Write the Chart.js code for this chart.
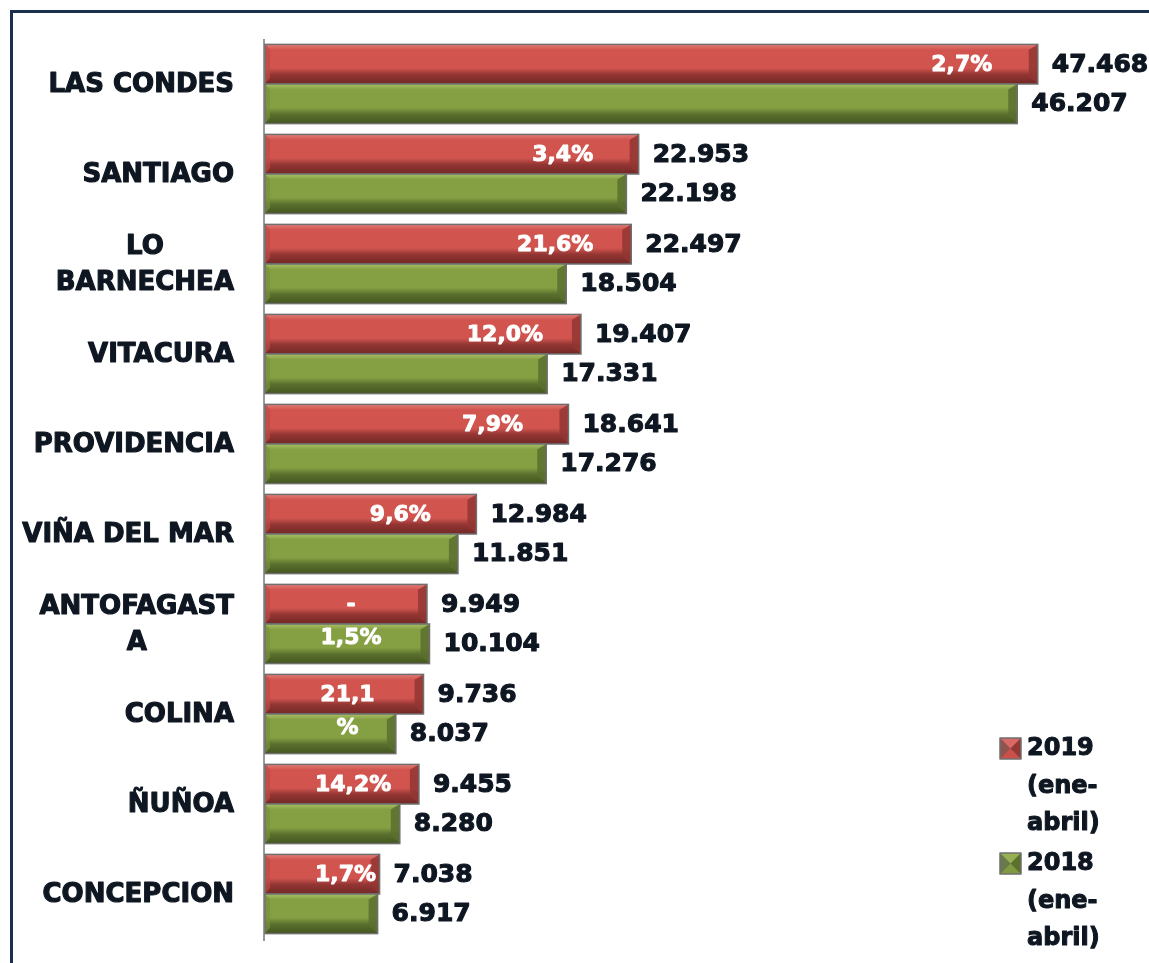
<!DOCTYPE html>
<html><head><meta charset="utf-8">
<script src="https://cdn.jsdelivr.net/npm/chart.js@4.4.1/dist/chart.umd.min.js"></script>
<style>
html,body{margin:0;padding:0;background:#fff;}
#wrap{position:relative;width:1149px;height:963px;overflow:hidden;background:#fff;}
#frame{position:absolute;left:10px;top:10px;width:1300px;height:1100px;border-top:3px solid #1b2f4f;border-left:3px solid #1b2f4f;box-sizing:border-box;pointer-events:none;}
canvas{position:absolute;left:0;top:0;}
</style></head><body>
<div id="wrap"><canvas id="c" width="1149" height="963"></canvas><div id="frame"></div></div>
<script>
const categories = ['LAS CONDES','SANTIAGO',['LO','BARNECHEA'],'VITACURA','PROVIDENCIA','VIÑA DEL MAR',['ANTOFAGAST','A'],'COLINA','ÑUÑOA','CONCEPCION'];
const values2019 = [47468,22953,22497,19407,18641,12984,9949,9736,9455,7038];
const values2018 = [46207,22198,18504,17331,17276,11851,10104,8037,8280,6917];
const pctLabels = ['2,7%','3,4%','21,6%','12,0%','7,9%','9,6%',['-','1,5%'],['21,1','%'],'14,2%','1,7%'];
const seriesNames = [['2019','(ene-','abril)'],['2018','(ene-','abril)']];

const palettes = [
  {face:'#d1544f', top:'#e27c76', bottom:'#722826', right:'#933633', left:'#c04a45', key:'#c9504b'},
  {face:'#85a043', top:'#a8c063', bottom:'#44561e', right:'#5a702e', left:'#77913a', key:'#7f9a40'}
];
const TXT = '#0e1621';
const fmt = v => String(v).replace(/\B(?=(\d{3})+(?!\d))/g, '.');

function boldText(ctx, s, x, y, color, w){
  ctx.fillStyle = color; ctx.strokeStyle = color; ctx.lineWidth = w; ctx.lineJoin = 'round';
  ctx.strokeText(s, x, y); ctx.fillText(s, x, y);
}

function bevel(ctx, l, t, r, b, pal){
  const h = b - t, d = Math.min(9, (r - l) / 3);
  const g = ctx.createLinearGradient(0, t, 0, b);
  g.addColorStop(0, pal.top);
  g.addColorStop(0.14, pal.face);
  g.addColorStop(0.6, pal.face);
  g.addColorStop(0.76, pal.right);
  g.addColorStop(1, pal.bottom);
  ctx.fillStyle = g;
  ctx.fillRect(l, t, r - l, h);
  ctx.beginPath();
  ctx.moveTo(r, t); ctx.lineTo(r, b); ctx.lineTo(r - d, b - d * 0.9); ctx.lineTo(r - d, t + d * 0.6); ctx.closePath();
  ctx.fillStyle = pal.right; ctx.globalAlpha = 0.85; ctx.fill(); ctx.globalAlpha = 1;
  ctx.beginPath();
  ctx.moveTo(l, t); ctx.lineTo(l, b); ctx.lineTo(l + 5, b - 6); ctx.lineTo(l + 5, t + 5); ctx.closePath();
  ctx.fillStyle = pal.left; ctx.globalAlpha = 0.7; ctx.fill(); ctx.globalAlpha = 1;
  ctx.strokeStyle = '#6f6f6f'; ctx.lineWidth = 1.5;
  ctx.strokeRect(l, t, r - l, h);
}

const drawPlugin = {
  id: 'drawPlugin',
  afterDatasetsDraw(chart){
    const ctx = chart.ctx, ca = chart.chartArea;
    ctx.save();
    ctx.strokeStyle = '#9a9a9a'; ctx.lineWidth = 2;
    ctx.beginPath(); ctx.moveTo(ca.left - 1, ca.top); ctx.lineTo(ca.left - 1, ca.bottom + 2); ctx.stroke();
    const bars = [];
    chart.data.datasets.forEach((ds, di) => {
      const meta = chart.getDatasetMeta(di);
      bars[di] = [];
      meta.data.forEach((el, i) => {
        const p = el.getProps(['x','y','base','height'], true);
        const l = p.base, r = p.x, t = p.y - p.height / 2, b = p.y + p.height / 2;
        bars[di][i] = {l, r, t, b, y: p.y};
        bevel(ctx, l, t, r, b, palettes[di]);
      });
    });
    ctx.font = 'bold 25px "DejaVu Sans"';
    ctx.textAlign = 'left'; ctx.textBaseline = 'middle';
    chart.data.datasets.forEach((ds, di) => {
      ds.data.forEach((v, i) => {
        const bb = bars[di][i];
        boldText(ctx, fmt(v), bb.r + 14, bb.y + 1, TXT, 1.1);
      });
    });
    ctx.font = 'bold 22px "DejaVu Sans"';
    ctx.textAlign = 'center';
    pctLabels.forEach((lab, i) => {
      const lines = Array.isArray(lab) ? lab : [lab];
      const bb = bars[0][i];
      const w = Math.max(...lines.map(s => ctx.measureText(s).width));
      let cx = bb.r - 76;
      if (cx - w / 2 < bb.l + 50) cx = bb.l + 50 + w / 2;
      lines.forEach((s, k) => boldText(ctx, s, cx, bb.y + 1 + k * 33, '#ffffff', 0.9));
    });
    ctx.font = 'bold 26px "DejaVu Sans"';
    const ys = chart.scales.y;
    categories.forEach((c, i) => {
      const lines = Array.isArray(c) ? c : [c];
      const w = Math.max(...lines.map(s => ctx.measureText(s).width));
      const cx = 234 - w / 2;
      const cy = ys.getPixelForValue(i);
      const lh = 36;
      lines.forEach((s, k) => boldText(ctx, s, cx, cy + 1 + (k - (lines.length - 1) / 2) * lh, TXT, 1.1));
    });
    ctx.font = 'bold 24px "DejaVu Sans"';
    ctx.textAlign = 'left';
    const legTop = [748, 863];
    seriesNames.forEach((lines, di) => {
      const y0 = legTop[di];
      const sx = 1000, sy = y0 - 10, s = 21;
      const pal = palettes[di];
      ctx.fillStyle = pal.key; ctx.fillRect(sx, sy, s, s);
      ctx.beginPath(); ctx.moveTo(sx, sy); ctx.lineTo(sx + s, sy); ctx.lineTo(sx + s/2, sy + s/2); ctx.closePath();
      ctx.fillStyle = pal.top; ctx.globalAlpha = 0.6; ctx.fill(); ctx.globalAlpha = 1;
      ctx.beginPath(); ctx.moveTo(sx + s, sy); ctx.lineTo(sx + s, sy + s); ctx.lineTo(sx + s/2, sy + s/2); ctx.closePath();
      ctx.fillStyle = pal.bottom; ctx.globalAlpha = 0.6; ctx.fill(); ctx.globalAlpha = 1;
      ctx.beginPath(); ctx.moveTo(sx, sy); ctx.lineTo(sx, sy + s); ctx.lineTo(sx + s/2, sy + s/2); ctx.closePath();
      ctx.fillStyle = '#555'; ctx.globalAlpha = 0.5; ctx.fill(); ctx.globalAlpha = 1;
      ctx.strokeStyle = '#6f6f6f'; ctx.lineWidth = 1.5; ctx.strokeRect(sx, sy, s, s);
      lines.forEach((t, k) => boldText(ctx, t, 1027, y0 + 1 + k * 37.5, TXT, 1.0));
    });
    ctx.restore();
  }
};

new Chart(document.getElementById('c'), {
  type: 'bar',
  data: {
    labels: categories.map(c => Array.isArray(c) ? c.join(' ') : c),
    datasets: [
      {label: '2019 (ene-abril)', data: values2019, backgroundColor: palettes[0].face, borderWidth: 0},
      {label: '2018 (ene-abril)', data: values2018, backgroundColor: palettes[1].face, borderWidth: 0}
    ]
  },
  options: {
    indexAxis: 'y',
    responsive: false,
    animation: false,
    events: [],
    layout: {padding: {left: 265, right: 70, top: 39, bottom: 24}},
    plugins: {legend: {display: false}, tooltip: {enabled: false}},
    datasets: {bar: {categoryPercentage: 0.88, barPercentage: 1.0}},
    scales: {
      x: {display: false, min: 0, max: 50000},
      y: {display: false}
    }
  },
  plugins: [drawPlugin]
});
</script>
</body></html>
